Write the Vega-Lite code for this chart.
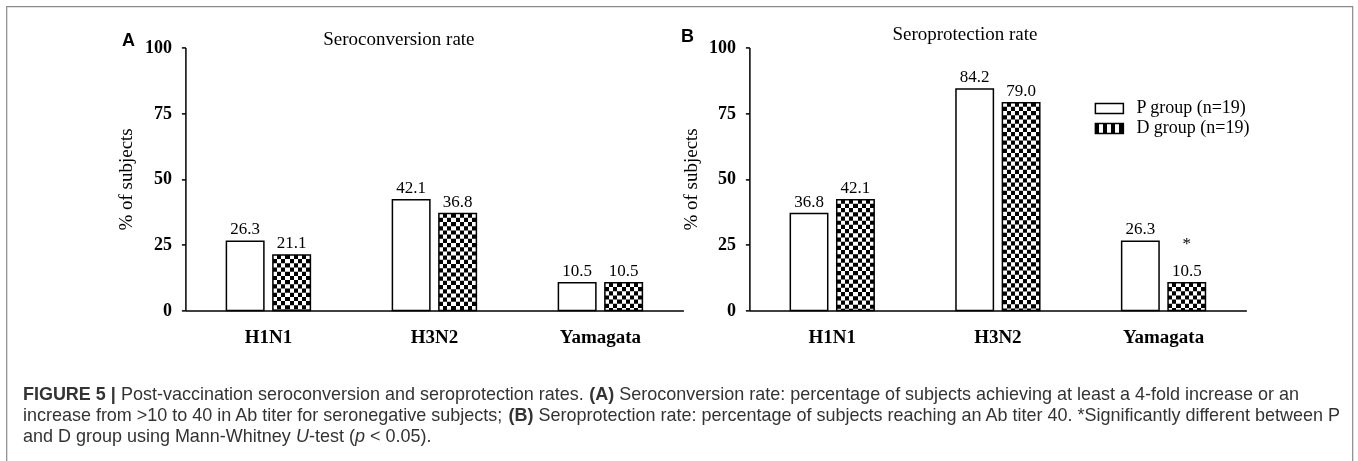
{
  "$schema": "https://vega.github.io/schema/vega-lite/v6.json",
  "padding": {"left": 6.4, "top": 6.4, "right": 5, "bottom": 0},
  "background": "#ffffff",
  "width": 1346,
  "height": 480,
  "view": {"stroke": "#8a8a8a", "strokeWidth": 1.2},
  "config": {"font": "Liberation Serif"},
  "datasets": {
    "seroconversion": [
      {"strain": "H1N1", "group": "P group (n=19)", "value": 26.3, "sig": ""},
      {"strain": "H1N1", "group": "D group (n=19)", "value": 21.1, "sig": ""},
      {"strain": "H3N2", "group": "P group (n=19)", "value": 42.1, "sig": ""},
      {"strain": "H3N2", "group": "D group (n=19)", "value": 36.8, "sig": ""},
      {"strain": "Yamagata", "group": "P group (n=19)", "value": 10.5, "sig": ""},
      {"strain": "Yamagata", "group": "D group (n=19)", "value": 10.5, "sig": ""}
    ],
    "seroprotection": [
      {"strain": "H1N1", "group": "P group (n=19)", "value": 36.8, "sig": ""},
      {"strain": "H1N1", "group": "D group (n=19)", "value": 42.1, "sig": ""},
      {"strain": "H3N2", "group": "P group (n=19)", "value": 84.2, "sig": ""},
      {"strain": "H3N2", "group": "D group (n=19)", "value": 79.0, "sig": ""},
      {"strain": "Yamagata", "group": "P group (n=19)", "value": 26.3, "sig": ""},
      {"strain": "Yamagata", "group": "D group (n=19)", "value": 10.5, "sig": "*"}
    ]
  },
  "resolve": {"scale": {"x": "independent", "xOffset": "independent"}, "axis": {"x": "independent", "y": "independent"}},
  "layer": [
    {
      "data": {"name": "seroconversion"},
      "encoding": {
        "x": {"field": "strain", "type": "nominal", "sort": ["H1N1", "H3N2", "Yamagata"], "scale": {"range": [179, 677], "paddingInner": 0.494, "paddingOuter": 0.247}, "axis": null},
        "xOffset": {"field": "group", "type": "nominal", "sort": ["P group (n=19)", "D group (n=19)"], "scale": {"paddingInner": 0.194, "paddingOuter": 0}},
        "y": {"field": "value", "type": "quantitative", "scale": {"domain": [0, 100], "nice": false, "range": [304, 41]}, "axis": null}
      },
      "resolve": {"axis": {"x": "independent", "y": "independent"}},
      "layer": [
        {
          "mark": {"type": "bar", "fill": "#ffffff", "strokeWidth": 0},
          "encoding": {
            "x": {"field": "strain", "type": "nominal", "sort": ["H1N1", "H3N2", "Yamagata"], "scale": {"range": [179, 677], "paddingInner": 0.494, "paddingOuter": 0.247},
              "axis": {"orient": "bottom", "offset": -176, "title": null, "ticks": false, "tickSize": 0, "domainColor": "#000000", "domainWidth": 1.5, "labelFont": "Liberation Serif", "labelFontWeight": "bold", "labelFontSize": 19, "labelColor": "#000000", "labelPadding": 26, "labelBaseline": "middle", "labelAngle": 0, "grid": false}},
            "y": {"field": "value", "type": "quantitative", "scale": {"domain": [0, 100], "nice": false, "range": [304, 41]},
              "axis": {"orient": "left", "offset": -179, "values": [0, 25, 50, 75, 100], "title": "% of subjects", "grid": false, "domainColor": "#000000", "domainWidth": 1.5, "tickColor": "#000000", "tickWidth": 1.5, "tickSize": 4, "labelFont": "Liberation Serif", "labelFontWeight": "bold", "labelFontSize": 18, "labelColor": "#000000", "labelPadding": 10, "titleFont": "Liberation Serif", "titleFontWeight": "normal", "titleFontSize": 19, "titleColor": "#000000", "titleX": -60, "titleY": 172.5, "titleAngle": -90, "titleAlign": "center", "titleBaseline": "middle"}}
          }
        },
        {
          "transform": [{"filter": "datum.group === 'D group (n=19)'"}],
          "mark": {"type": "bar", "strokeWidth": 0, "fill": {"gradient": "linear", "x1": 0, "y1": 0, "x2": 1, "y2": 0, "stops": [
            {"offset": 0, "color": "#000"}, {"offset": 0.1111, "color": "#000"}, {"offset": 0.1111, "color": "#fff"}, {"offset": 0.2222, "color": "#fff"},
            {"offset": 0.2222, "color": "#000"}, {"offset": 0.3333, "color": "#000"}, {"offset": 0.3333, "color": "#fff"}, {"offset": 0.4444, "color": "#fff"},
            {"offset": 0.4444, "color": "#000"}, {"offset": 0.5556, "color": "#000"}, {"offset": 0.5556, "color": "#fff"}, {"offset": 0.6667, "color": "#fff"},
            {"offset": 0.6667, "color": "#000"}, {"offset": 0.7778, "color": "#000"}, {"offset": 0.7778, "color": "#fff"}, {"offset": 0.8889, "color": "#fff"},
            {"offset": 0.8889, "color": "#000"}, {"offset": 1, "color": "#000"}]}},
          "encoding": {
            "x": {"field": "strain", "type": "nominal", "sort": ["H1N1", "H3N2", "Yamagata"], "scale": {"range": [179, 677], "paddingInner": 0.494, "paddingOuter": 0.247},
              "axis": {"orient": "top", "title": "FIGURE 5 |", "domain": false, "ticks": false, "labels": false, "grid": false, "titleFont": "Liberation Sans", "titleFontWeight": "bold", "titleFontSize": 18, "titleColor": "#333333", "titleX": 16, "titleY": 379, "titleAlign": "left", "titleBaseline": "top", "titleAngle": 0}},
            "y": {"field": "value", "type": "quantitative", "scale": {"domain": [0, 100], "nice": false, "range": [304, 41]},
              "axis": {"orient": "left", "offset": 0, "title": "Post-vaccination seroconversion and seroprotection rates.", "domain": false, "ticks": false, "labels": false, "grid": false, "titleFont": "Liberation Sans", "titleFontWeight": "normal", "titleFontSize": 18, "titleColor": "#333333", "titleX": 114.1, "titleY": 379, "titleAlign": "left", "titleBaseline": "top", "titleAngle": 0}}
          }
        },
        {
          "transform": [{"filter": "datum.group === 'D group (n=19)'"}],
          "mark": {"type": "rule", "stroke": "#ffffff", "strokeWidth": 37.5, "strokeDash": [4.2, 4.2], "blend": "difference"},
          "encoding": {
            "y2": {"datum": 0},
            "x": {"field": "strain", "type": "nominal", "sort": ["H1N1", "H3N2", "Yamagata"], "scale": {"range": [179, 677], "paddingInner": 0.494, "paddingOuter": 0.247},
              "axis": {"orient": "top", "title": "(A)", "domain": false, "ticks": false, "labels": false, "grid": false, "titleFont": "Liberation Sans", "titleFontWeight": "bold", "titleFontSize": 18, "titleColor": "#333333", "titleX": 582.3, "titleY": 379, "titleAlign": "left", "titleBaseline": "top", "titleAngle": 0}},
            "y": {"field": "value", "type": "quantitative", "scale": {"domain": [0, 100], "nice": false, "range": [304, 41]},
              "axis": {"orient": "left", "offset": 0, "title": "Seroconversion rate: percentage of subjects achieving at least a 4-fold increase or an", "domain": false, "ticks": false, "labels": false, "grid": false, "titleFont": "Liberation Sans", "titleFontWeight": "normal", "titleFontSize": 18, "titleColor": "#333333", "titleX": 612.3, "titleY": 379, "titleAlign": "left", "titleBaseline": "top", "titleAngle": 0}}
          }
        },
        {
          "mark": {"type": "bar", "fillOpacity": 0, "stroke": "#000000", "strokeWidth": 1.5},
          "encoding": {
            "x": {"field": "strain", "type": "nominal", "sort": ["H1N1", "H3N2", "Yamagata"], "scale": {"range": [179, 677], "paddingInner": 0.494, "paddingOuter": 0.247},
              "axis": {"orient": "top", "title": "Seroconversion rate", "domain": false, "ticks": false, "labels": false, "grid": false, "titleFont": "Liberation Serif", "titleFontWeight": "normal", "titleFontSize": 19, "titleColor": "#000000", "titleX": 392, "titleY": 32, "titleAlign": "center", "titleBaseline": "middle", "titleAngle": 0}},
            "y": {"field": "value", "type": "quantitative", "scale": {"domain": [0, 100], "nice": false, "range": [304, 41]},
              "axis": {"orient": "left", "offset": 0, "title": ["increase from >10 to 40 in Ab titer for seronegative subjects;", "and D group using Mann-Whitney"], "domain": false, "ticks": false, "labels": false, "grid": false, "titleFont": "Liberation Sans", "titleFontWeight": "normal", "titleFontSize": 18, "titleColor": "#333333", "titleLineHeight": 21, "titleX": 16, "titleY": 400, "titleAlign": "left", "titleBaseline": "top", "titleAngle": 0}}
          }
        },
        {
          "mark": {"type": "text", "font": "Liberation Serif", "fontSize": 17, "baseline": "middle", "dy": -12, "color": "#000000"},
          "encoding": {
            "x": {"field": "strain", "type": "nominal", "sort": ["H1N1", "H3N2", "Yamagata"], "scale": {"range": [179, 677], "paddingInner": 0.494, "paddingOuter": 0.247},
              "axis": {"orient": "top", "title": "A", "domain": false, "ticks": false, "labels": false, "grid": false, "titleFont": "Liberation Sans", "titleFontWeight": "bold", "titleFontSize": 18, "titleColor": "#000000", "titleX": 121.5, "titleY": 34, "titleAlign": "center", "titleBaseline": "middle", "titleAngle": 0}},
            "y": {"field": "value", "type": "quantitative", "scale": {"domain": [0, 100], "nice": false, "range": [304, 41]},
              "axis": {"orient": "left", "offset": 0, "title": "(B)", "domain": false, "ticks": false, "labels": false, "grid": false, "titleFont": "Liberation Sans", "titleFontWeight": "bold", "titleFontSize": 18, "titleColor": "#333333", "titleX": 501.7, "titleY": 400, "titleAlign": "left", "titleBaseline": "top", "titleAngle": 0}},
            "text": {"field": "value", "type": "quantitative", "format": ".1f"}
          }
        }
      ]
    },
    {
      "data": {"name": "seroprotection"},
      "encoding": {
        "x": {"field": "strain", "type": "nominal", "sort": ["H1N1", "H3N2", "Yamagata"], "scale": {"range": [743, 1240], "paddingInner": 0.494, "paddingOuter": 0.247}, "axis": null},
        "xOffset": {"field": "group", "type": "nominal", "sort": ["P group (n=19)", "D group (n=19)"], "scale": {"paddingInner": 0.194, "paddingOuter": 0}},
        "y": {"field": "value", "type": "quantitative", "scale": {"domain": [0, 100], "nice": false, "range": [304, 41]}, "axis": null}
      },
      "resolve": {"axis": {"x": "independent", "y": "independent"}},
      "layer": [
        {
          "mark": {"type": "bar", "strokeWidth": 0},
          "encoding": {
            "x": {"field": "strain", "type": "nominal", "sort": ["H1N1", "H3N2", "Yamagata"], "scale": {"range": [743, 1240], "paddingInner": 0.494, "paddingOuter": 0.247},
              "axis": {"orient": "bottom", "offset": -176, "title": null, "ticks": false, "tickSize": 0, "domainColor": "#000000", "domainWidth": 1.5, "labelFont": "Liberation Serif", "labelFontWeight": "bold", "labelFontSize": 19, "labelColor": "#000000", "labelPadding": 26, "labelBaseline": "middle", "labelAngle": 0, "grid": false}},
            "y": {"field": "value", "type": "quantitative", "scale": {"domain": [0, 100], "nice": false, "range": [304, 41]},
              "axis": {"orient": "left", "offset": -743, "values": [0, 25, 50, 75, 100], "title": "% of subjects", "grid": false, "domainColor": "#000000", "domainWidth": 1.5, "tickColor": "#000000", "tickWidth": 1.5, "tickSize": 4, "labelFont": "Liberation Serif", "labelFontWeight": "bold", "labelFontSize": 18, "labelColor": "#000000", "labelPadding": 10, "titleFont": "Liberation Serif", "titleFontWeight": "normal", "titleFontSize": 19, "titleColor": "#000000", "titleX": -59, "titleY": 172.5, "titleAngle": -90, "titleAlign": "center", "titleBaseline": "middle"}},
            "fill": {"field": "group", "type": "nominal",
              "scale": {"domain": ["P group (n=19)", "D group (n=19)"], "range": ["#ffffff", {"expr": "{gradient: 'linear', x1: 0, y1: 0, x2: 1, y2: 0, stops: [{offset: 0, color: '#000'}, {offset: 0.1429, color: '#000'}, {offset: 0.1429, color: '#fff'}, {offset: 0.2857, color: '#fff'}, {offset: 0.2857, color: '#000'}, {offset: 0.4286, color: '#000'}, {offset: 0.4286, color: '#fff'}, {offset: 0.5714, color: '#fff'}, {offset: 0.5714, color: '#000'}, {offset: 0.7143, color: '#000'}, {offset: 0.7143, color: '#fff'}, {offset: 0.8571, color: '#fff'}, {offset: 0.8571, color: '#000'}, {offset: 1, color: '#000'}]}"}]},
              "legend": {"orient": "none", "legendX": 1092, "legendY": 91, "title": null, "symbolType": "M-1.4,-0.5H1.4V0.5H-1.4Z", "symbolSize": 400, "symbolStrokeColor": "#000000", "symbolStrokeWidth": 1.5, "symbolOpacity": 1, "labelFont": "Liberation Serif", "labelFontSize": 18, "labelColor": "#000000", "labelOffset": 16, "rowPadding": 0, "padding": 0, "offset": 0,
                "encode": {"symbols": {"update": {"stroke": {"value": "#000000"}, "strokeWidth": {"value": 1.5}, "opacity": {"value": 1}, "fillOpacity": {"value": 1}, "strokeOpacity": {"value": 1}}}}}}
          }
        },
        {
          "transform": [{"filter": "datum.group === 'D group (n=19)'"}],
          "mark": {"type": "bar", "strokeWidth": 0, "fill": {"gradient": "linear", "x1": 0, "y1": 0, "x2": 1, "y2": 0, "stops": [
            {"offset": 0, "color": "#000"}, {"offset": 0.1111, "color": "#000"}, {"offset": 0.1111, "color": "#fff"}, {"offset": 0.2222, "color": "#fff"},
            {"offset": 0.2222, "color": "#000"}, {"offset": 0.3333, "color": "#000"}, {"offset": 0.3333, "color": "#fff"}, {"offset": 0.4444, "color": "#fff"},
            {"offset": 0.4444, "color": "#000"}, {"offset": 0.5556, "color": "#000"}, {"offset": 0.5556, "color": "#fff"}, {"offset": 0.6667, "color": "#fff"},
            {"offset": 0.6667, "color": "#000"}, {"offset": 0.7778, "color": "#000"}, {"offset": 0.7778, "color": "#fff"}, {"offset": 0.8889, "color": "#fff"},
            {"offset": 0.8889, "color": "#000"}, {"offset": 1, "color": "#000"}]}},
          "encoding": {
            "x": {"field": "strain", "type": "nominal", "sort": ["H1N1", "H3N2", "Yamagata"], "scale": {"range": [743, 1240], "paddingInner": 0.494, "paddingOuter": 0.247},
              "axis": {"orient": "top", "title": "Seroprotection rate: percentage of subjects reaching an Ab titer 40. *Significantly different between P", "domain": false, "ticks": false, "labels": false, "grid": false, "titleFont": "Liberation Sans", "titleFontWeight": "normal", "titleFontSize": 18, "titleColor": "#333333", "titleX": 531.7, "titleY": 400, "titleAlign": "left", "titleBaseline": "top", "titleAngle": 0}},
            "y": {"field": "value", "type": "quantitative", "scale": {"domain": [0, 100], "nice": false, "range": [304, 41]},
              "axis": {"orient": "left", "offset": 0, "title": "U", "domain": false, "ticks": false, "labels": false, "grid": false, "titleFont": "Liberation Sans", "titleFontWeight": "normal", "titleFontStyle": "italic", "titleFontSize": 18, "titleColor": "#333333", "titleX": 289.1, "titleY": 421, "titleAlign": "left", "titleBaseline": "top", "titleAngle": 0}}
          }
        },
        {
          "transform": [{"filter": "datum.group === 'D group (n=19)'"}],
          "mark": {"type": "rule", "stroke": "#ffffff", "strokeWidth": 37.5, "strokeDash": [4.2, 4.2], "blend": "difference"},
          "encoding": {
            "y2": {"datum": 0},
            "x": {"field": "strain", "type": "nominal", "sort": ["H1N1", "H3N2", "Yamagata"], "scale": {"range": [743, 1240], "paddingInner": 0.494, "paddingOuter": 0.247},
              "axis": {"orient": "top", "title": "-test (", "domain": false, "ticks": false, "labels": false, "grid": false, "titleFont": "Liberation Sans", "titleFontWeight": "normal", "titleFontSize": 18, "titleColor": "#333333", "titleX": 302.1, "titleY": 421, "titleAlign": "left", "titleBaseline": "top", "titleAngle": 0}},
            "y": {"field": "value", "type": "quantitative", "scale": {"domain": [0, 100], "nice": false, "range": [304, 41]},
              "axis": {"orient": "left", "offset": 0, "title": "p", "domain": false, "ticks": false, "labels": false, "grid": false, "titleFont": "Liberation Sans", "titleFontWeight": "normal", "titleFontStyle": "italic", "titleFontSize": 18, "titleColor": "#333333", "titleX": 348.1, "titleY": 421, "titleAlign": "left", "titleBaseline": "top", "titleAngle": 0}}
          }
        },
        {
          "mark": {"type": "bar", "fillOpacity": 0, "stroke": "#000000", "strokeWidth": 1.5},
          "encoding": {
            "x": {"field": "strain", "type": "nominal", "sort": ["H1N1", "H3N2", "Yamagata"], "scale": {"range": [743, 1240], "paddingInner": 0.494, "paddingOuter": 0.247},
              "axis": {"orient": "top", "title": "Seroprotection rate", "domain": false, "ticks": false, "labels": false, "grid": false, "titleFont": "Liberation Serif", "titleFontWeight": "normal", "titleFontSize": 19, "titleColor": "#000000", "titleX": 958, "titleY": 27, "titleAlign": "center", "titleBaseline": "middle", "titleAngle": 0}},
            "y": {"field": "value", "type": "quantitative", "scale": {"domain": [0, 100], "nice": false, "range": [304, 41]},
              "axis": {"orient": "left", "offset": 0, "title": "< 0.05).", "domain": false, "ticks": false, "labels": false, "grid": false, "titleFont": "Liberation Sans", "titleFontWeight": "normal", "titleFontSize": 18, "titleColor": "#333333", "titleX": 363.1, "titleY": 421, "titleAlign": "left", "titleBaseline": "top", "titleAngle": 0}}
          }
        },
        {
          "mark": {"type": "text", "font": "Liberation Serif", "fontSize": 17, "baseline": "middle", "dy": -12, "color": "#000000"},
          "encoding": {
            "x": {"field": "strain", "type": "nominal", "sort": ["H1N1", "H3N2", "Yamagata"], "scale": {"range": [743, 1240], "paddingInner": 0.494, "paddingOuter": 0.247},
              "axis": {"orient": "top", "title": "B", "domain": false, "ticks": false, "labels": false, "grid": false, "titleFont": "Liberation Sans", "titleFontWeight": "bold", "titleFontSize": 18, "titleColor": "#000000", "titleX": 680.5, "titleY": 30.5, "titleAlign": "center", "titleBaseline": "middle", "titleAngle": 0}},
            "text": {"field": "value", "type": "quantitative", "format": ".1f"}
          }
        },
        {
          "transform": [{"filter": "datum.sig === '*'"}],
          "mark": {"type": "text", "font": "Liberation Serif", "fontSize": 17, "baseline": "middle", "dy": -39, "color": "#000000"},
          "encoding": {"text": {"field": "sig", "type": "nominal"}}
        }
      ]
    }
  ]
}
